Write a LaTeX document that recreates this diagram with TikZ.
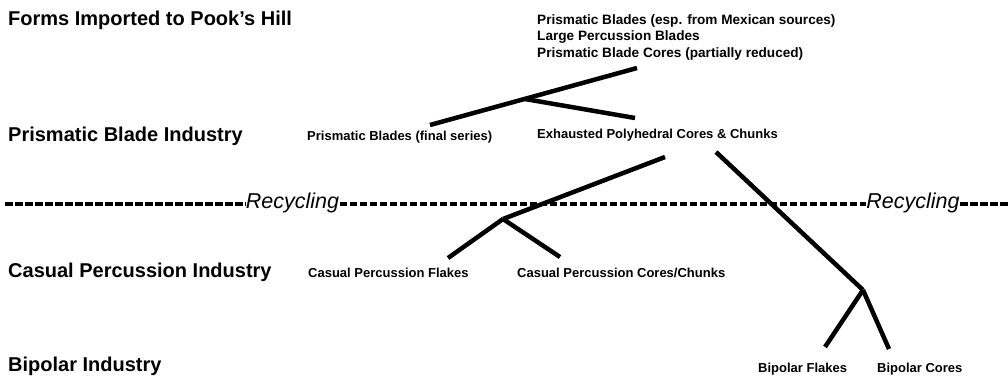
\documentclass[tikz,border=0pt]{standalone}
\usepackage{fontspec}
\setmainfont{Liberation Sans}
\begin{document}
\begin{tikzpicture}[x=1pt,y=-1pt,
  head/.style={font=\fontsize{20}{22}\selectfont\bfseries, anchor=west, inner sep=0pt},
  item/.style={font=\fontsize{13}{16}\selectfont\bfseries, anchor=west, inner sep=0pt},
  imported/.style={font=\fontsize{13.6}{16}\selectfont\bfseries, anchor=west, inner sep=0pt},
  rec/.style={font=\fontsize{21.5}{22}\selectfont\itshape, inner sep=0.5pt},
  branch/.style={line width=4.5pt},
  dots/.style={line width=4.5pt, dash pattern=on 7.5pt off 2.5pt}]
\useasboundingbox (0,0) rectangle (1008,381);

% row headings
\node[head] (forms) at (8,20) {Forms Imported to Pook’s Hill};
\node[head] (pbi) at (8,136) {Prismatic Blade Industry};
\node[head] (cpi) at (8,272) {Casual Percussion Industry};
\node[head] (bi) at (8,366) {Bipolar Industry};

% items
\node[imported] (imp1) at (537,21) {Prismatic Blades (esp. from Mexican sources)};
\node[imported] (imp2) at (537,37.5) {Large Percussion Blades};
\node[imported] (imp3) at (537,54) {Prismatic Blade Cores (partially reduced)};
\node[item] (pbfs) at (307,137) {Prismatic Blades (final series)};
\node[item] (epc) at (537,135) {Exhausted Polyhedral Cores \& Chunks};
\node[item] (cpf) at (308,273) {Casual Percussion Flakes};
\node[item] (cpc) at (517,273) {Casual Percussion Cores/Chunks};
\node[item] (bf) at (758,369) {Bipolar Flakes};
\node[item] (bc) at (877,369) {Bipolar Cores};

% recycling line
\node[rec] (rec1) at (292.5,203) {Recycling};
\node[rec] (rec2) at (913,203) {Recycling};
\coordinate (dl) at (5,204);
\coordinate (dr) at (1010,204);
\draw[dots] (dl) -- (dl -| rec1.west);
\draw[dots] (rec1.east |- dl) -- (rec2.west |- dl);
\draw[dots] (rec2.east |- dl) -- (dr);

% branch points
\coordinate (aTop) at (637,68);
\coordinate (aJ) at (525,99);
\coordinate (aL) at (430,125);
\coordinate (aR) at (635,118);
\coordinate (bTop) at (665,157);
\coordinate (bJ) at (503,219);
\coordinate (bL) at (448,258);
\coordinate (bR) at (560,257);
\coordinate (cTop) at (716,152);
\coordinate (cJ) at (863,290);
\coordinate (cL) at (825,347);
\coordinate (cR) at (889,349);

\draw[branch] (aTop) -- (aL);
\draw[branch] (aJ) -- (aR);
\draw[branch] (bTop) -- (bJ);
\draw[branch] (bJ) -- (bL);
\draw[branch] (bJ) -- (bR);
\draw[branch] (cTop) -- (cJ);
\draw[branch] (cJ) -- (cL);
\draw[branch] (cJ) -- (cR);
\end{tikzpicture}
\end{document}
